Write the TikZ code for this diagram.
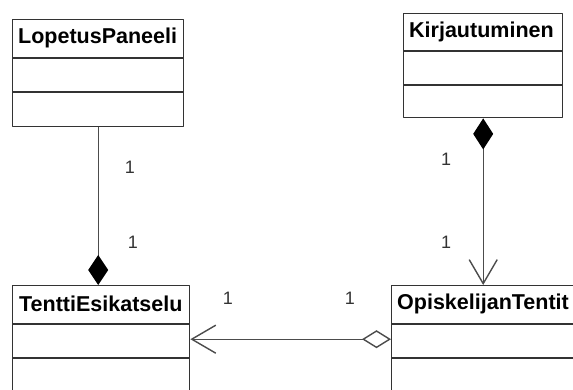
\documentclass[tikz,border=0pt]{standalone}
\usepackage{fontspec}
\setmainfont{Liberation Sans}
\usetikzlibrary{arrows.meta,calc}

\tikzset{
  cls/.style={draw=black!80,line width=1.4pt,fill=white,anchor=north west,inner sep=0pt},
  clsname/.style={anchor=west,inner sep=0pt,font=\fontsize{21.5}{25}\selectfont\bfseries},
  sep/.style={draw=black!80,line width=1.4pt},
  assoc/.style={draw=black!70,line width=1.4pt},
  mult/.style={font=\fontsize{18}{21}\selectfont,text=black!80},
}

\begin{document}
\begin{tikzpicture}[x=1pt,y=-1pt,line join=round]
\useasboundingbox (0,0) rectangle (573,390);
\clip (0,0) rectangle (573,390);
\fill[white] (0,0) rectangle (573,390);
% class boxes
\node[cls,minimum width=171pt,minimum height=107pt] (lp) at (12,19) {};
\node[cls,minimum width=159pt,minimum height=104pt] (kj) at (403,13) {};
\node[cls,minimum width=177pt,minimum height=107pt] (te) at (12,285) {};
\node[cls,minimum width=199pt,minimum height=107pt] (ot) at (391,285) {};
% compartments
\draw[sep] (12,58) -- (183,58);   \draw[sep] (12,92) -- (183,92);
\draw[sep] (403,51) -- (562,51);  \draw[sep] (403,85) -- (562,85);
\draw[sep] (12,324) -- (189,324); \draw[sep] (12,358) -- (189,358);
\draw[sep] (391,324) -- (590,324); \draw[sep] (391,358) -- (590,358);
% class names
\node[clsname] (lpname) at (18,38) {LopetusPaneeli};
\node[clsname] (kjname) at (409,32) {Kirjautuminen};
\node[clsname] (tename) at (19,304) {TenttiEsikatselu};
\node[clsname] (otname) at (397,304) {OpiskelijanTentit};
% composition LopetusPaneeli -- TenttiEsikatselu
\draw[assoc,-{Diamond[length=30pt,width=20pt,color=black]}] (lp.south) -- (lp.south |- te.north);
% composition Kirjautuminen -> OpiskelijanTentit
\draw[assoc,{Diamond[length=31pt,width=20pt,color=black]}-{Straight Barb[length=24pt,width=28pt]}] (kj.south) -- (kj.south |- ot.north);
% aggregation OpiskelijanTentit -> TenttiEsikatselu
\draw[assoc,{Diamond[open,fill=white,length=29pt,width=18pt]}-{Straight Barb[length=24pt,width=28pt]}] (ot.west) -- (te.east);
% multiplicities
\node[mult] (m1) at (130,167) {1};
\node[mult] (m2) at (133,242) {1};
\node[mult] (m3) at (446,159) {1};
\node[mult] (m4) at (446,242) {1};
\node[mult] (m5) at (228,298) {1};
\node[mult] (m6) at (350,298) {1};
\end{tikzpicture}
\end{document}
